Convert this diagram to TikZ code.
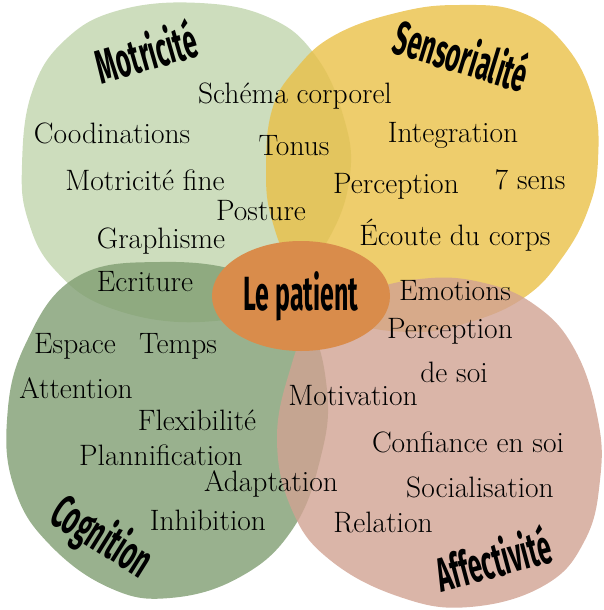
\documentclass[tikz,border=0pt]{standalone}
\usepackage{fontspec}
\newfontfamily\titlefont[FakeStretch=0.52]{Fira Sans}
\usetikzlibrary{positioning}
\usetikzlibrary{shapes}
\usepackage{xcolor}
\definecolor{motcol}{RGB}{192,212,172}
\definecolor{sencol}{RGB}{234,192,71}
\definecolor{cogcol}{RGB}{128,158,114}
\definecolor{affcol}{RGB}{209,162,146}
\definecolor{patcol}{RGB}{217,140,75}

\begin{document}
\begin{tikzpicture}[x=1pt, y=-1pt, node distance=14pt, every node/.style={inner sep=0pt, align=center},
    word/.style={anchor=base, font=\fontsize{29.5}{32}\selectfont},
    title/.style={font=\titlefont\bfseries\fontsize{48}{50}\selectfont},
    blob/.style={fill opacity=0.8}]
    \useasboundingbox (0,0) rectangle (604,610);

    % the four fields
    \fill [blob, fill=motcol] plot [smooth cycle, tension=0.7] coordinates {(22,165) (32,92) (65,40) (120,10) (200,3) (270,18) (315,55) (343,115) (350,175) (328,240) (280,300) (200,322) (110,308) (55,270) (28,220)};
    \fill [blob, fill=sencol] plot [smooth cycle, tension=0.7] coordinates {(266,170) (272,110) (295,70) (335,35) (400,12) (460,5) (520,12) (565,45) (593,100) (598,160) (588,210) (562,258) (525,297) (470,322) (410,332) (345,318) (295,270) (272,220)};
    \fill [blob, fill=cogcol] plot [smooth cycle, tension=0.7] coordinates {(75,278) (25,345) (7,420) (15,490) (50,545) (110,588) (170,598) (240,577) (292,530) (320,460) (327,390) (305,318) (250,275) (160,262)};
    \fill [blob, fill=affcol] plot [smooth cycle, tension=0.7] coordinates {(290,370) (310,330) (360,295) (420,279) (480,282) (535,305) (575,350) (598,420) (600,480) (585,540) (545,585) (470,607) (400,597) (330,560) (292,510) (277,440)};

    \node [title, ellipse, fill=patcol, minimum width=178, minimum height=110] (patient) at (301,296) {Le patient};

    % titles
    \node [title, rotate=16] (motricite) at (146,51) {Motricité};
    \node [title, rotate=-17] (sensorialite) at (462,54) {Sensorialité};
    \node [title, rotate=-32] (cognition) at (101,538) {Cognition};
    \node [title, rotate=15] (affectivite) at (493,558) {Affectivité};

    % Motricite
    \node [word] (schema) at (295,103) {Schéma corporel};
    \node [word] (coord) at (112,143) {Coodinations};
    \node [word] (tonus) at (294,155) {Tonus};
    \node [word] (fine) at (145,190) {Motricité fine};
    \node [word] (posture) at (261,220) {Posture};
    \node [word] (graph) at (161,248) {Graphisme};
    \node [word] (ecriture) at (145,291) {Ecriture};

    % Sensorialite
    \node [word] (integ) at (453,142) {Integration};
    \node [word] (percep) at (396,193) {Perception};
    \node [word] (sens) at (530,189) {7 sens};
    \node [word] (ecoute) at (455,245) {Écoute du corps};

    % Cognition
    \node [word] (espace) at (75,353) {Espace};
    \node [word] (temps) at (178,353) {Temps};
    \node [word] (attention) at (76,398) {Attention};
    \node [word] (flex) at (197,430) {Flexibilité};
    \node [word] (plan) at (161,465) {Plannification};
    \node [word] (adapt) at (271,491) {Adaptation};
    \node [word] (inhib) at (208,530) {Inhibition};

    % Affectivite
    \node [word] (emotions) at (455,300) {Emotions};
    \node [word] (percsoi) at (450,338) {Perception};
    \node [word] (desoi) at (454,382) {de soi};
    \node [word] (motiv) at (353,405) {Motivation};
    \node [word] (confiance) at (468,452) {Confiance en soi};
    \node [word] (social) at (480,497) {Socialisation};
    \node [word] (relation) at (383,532) {Relation};
\end{tikzpicture}
\end{document}
